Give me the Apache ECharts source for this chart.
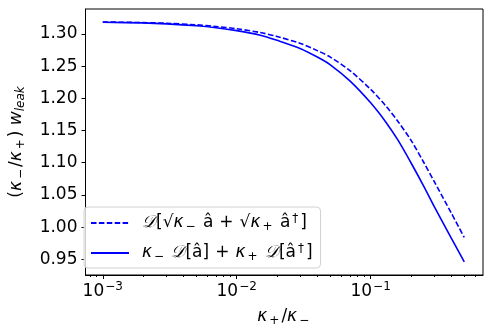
<!DOCTYPE html>
<html lang="en">
<head>
    <meta charset="UTF-8">
    <title>Leak rate vs kappa ratio</title>
    <style>
        html, body { margin: 0; padding: 0; background: #fff; }
        #chart { width: 498px; height: 332px; }
    </style>
</head>
<body>
<div id="chart"></div>

<script src="https://cdn.jsdelivr.net/npm/echarts@6/dist/echarts.min.js"></script>
<script>
    // values
    let kappaRatio = [0.001, 0.002, 0.003, 0.005, 0.007, 0.01, 0.015, 0.02, 0.03, 0.04,
                      0.05, 0.07, 0.1, 0.13, 0.16, 0.2, 0.25, 0.3, 0.4, 0.5];
    let combinedDissipator = [1.3185, 1.3175, 1.3165, 1.314, 1.3115, 1.308, 1.302, 1.296, 1.285, 1.274,
                              1.264, 1.243, 1.214, 1.188, 1.164, 1.135, 1.100, 1.070, 1.022, 0.984];
    let separateDissipators = [1.318, 1.317, 1.3155, 1.3125, 1.3095, 1.305, 1.298, 1.290, 1.277, 1.264,
                               1.252, 1.227, 1.193, 1.163, 1.135, 1.100, 1.063, 1.031, 0.983, 0.946];

    let xMajorTicks = [0.001, 0.01, 0.1];
    let xMinorTicks = [0.0008, 0.0009,
                       0.002, 0.003, 0.004, 0.005, 0.006, 0.007, 0.008, 0.009,
                       0.02, 0.03, 0.04, 0.05, 0.06, 0.07, 0.08, 0.09,
                       0.2, 0.3, 0.4, 0.5, 0.6];
    let yTicks = [0.95, 1.00, 1.05, 1.10, 1.15, 1.20, 1.25, 1.30];

    let legendText = {
        combined: '{g|}{cal|𝒟}[√{it|κ}{sub|−} â{op|+}√{it|κ}{sub|+} â{sup|†}]',
        separate: '{g|}{it|κ}{sub|−} {cal|𝒟}[â]{op|+}{it|κ}{sub|+} {cal|𝒟}[â{sup|†}]'
    };

    let font = 'DejaVu Sans';
    let mathRich = {
        g: { width: 8 },
        op: { fontSize: 17, fontFamily: font, color: '#000', padding: [0, 6, 0, 6] },
        it: { fontSize: 17, fontStyle: 'italic', fontFamily: font, color: '#000' },
        sub: { fontSize: 12, fontFamily: font, color: '#000', padding: [8, 2, 0, 2] },
        subit: { fontSize: 12, fontStyle: 'italic', fontFamily: font, color: '#000', padding: [8, 0, 0, 0] },
        sup: { fontSize: 12, fontFamily: font, color: '#000', padding: [0, 2, 8, 2] },
        cal: { fontSize: 17, fontStyle: 'italic', fontFamily: 'DejaVu Serif', color: '#000' }
    };

    let chart = echarts.init(document.getElementById('chart'));

    let xMin = 0.000743, xMax = 0.69;
    let yMin = 0.9258, yMax = 1.3386;

    let option = {
        animation: false,
        grid: {
            left: 75, top: 9, width: 408, height: 273,
            show: true, borderColor: '#000', borderWidth: 1
        },
        legend: {
            orient: 'vertical',
            left: 84, top: 207,
            padding: [6, 8, 5, 6],
            itemWidth: 38, itemHeight: 14, itemGap: 10,
            borderColor: '#d0d0d0', borderWidth: 1, borderRadius: 4,
            backgroundColor: 'rgba(255,255,255,0.8)',
            itemStyle: { opacity: 0 },
            data: ['combined', 'separate'],
            formatter: name => legendText[name],
            textStyle: { fontSize: 17, fontFamily: font, color: '#000', rich: mathRich }
        },
        xAxis: [{
            type: 'log',
            min: xMin, max: xMax,
            name: '{it|κ}{sub|+}/{it|κ}{sub|−}',
            nameLocation: 'middle', nameGap: 32,
            nameTextStyle: { fontSize: 17, fontFamily: font, color: '#000', rich: mathRich },
            axisLine: { lineStyle: { color: '#000', width: 1 } },
            axisTick: { customValues: xMajorTicks, length: 4, lineStyle: { color: '#000' } },
            axisLabel: {
                customValues: xMajorTicks, margin: 6,
                fontSize: 17, fontFamily: font, color: '#000',
                formatter: v => '10{sup|−' + Math.round(-Math.log10(v)) + '}',
                rich: { sup: { fontSize: 12, fontFamily: font, color: '#000', padding: [0, 0, 9, 1] } }
            },
            splitLine: { show: false }
        }, {
            type: 'log',
            min: xMin, max: xMax,
            position: 'bottom',
            axisLine: { show: false },
            axisTick: { customValues: xMinorTicks, length: 2, lineStyle: { color: '#000' } },
            axisLabel: { show: false },
            splitLine: { show: false }
        }],
        yAxis: {
            type: 'value',
            min: yMin, max: yMax,
            name: '({it|κ}{sub|−}/{it|κ}{sub|+}) {it|w}{subit|leak}',
            nameLocation: 'middle', nameGap: 59, nameRotate: 90,
            nameTextStyle: { fontSize: 17, fontFamily: font, color: '#000', rich: mathRich },
            axisLine: { show: true, lineStyle: { color: '#000', width: 1 } },
            axisTick: { show: true, customValues: yTicks, length: 4, lineStyle: { color: '#000' } },
            axisLabel: {
                customValues: yTicks, margin: 8,
                fontSize: 17, fontFamily: font, color: '#000',
                formatter: v => v.toFixed(2)
            },
            splitLine: { show: false }
        },
        series: [{
            name: 'combined',
            type: 'line',
            symbol: 'none',
            smooth: 0.3,
            data: kappaRatio.map((x, i) => [x, combinedDissipator[i]]),
            lineStyle: { color: '#0000ff', width: 1.6, type: [5.5, 2.4] },
            itemStyle: { color: '#0000ff' }
        }, {
            name: 'separate',
            type: 'line',
            symbol: 'none',
            smooth: 0.3,
            data: kappaRatio.map((x, i) => [x, separateDissipators[i]]),
            lineStyle: { color: '#0000ff', width: 1.6 },
            itemStyle: { color: '#0000ff' }
        }]
    };

    chart.setOption(option);
</script>
</body>
</html>
